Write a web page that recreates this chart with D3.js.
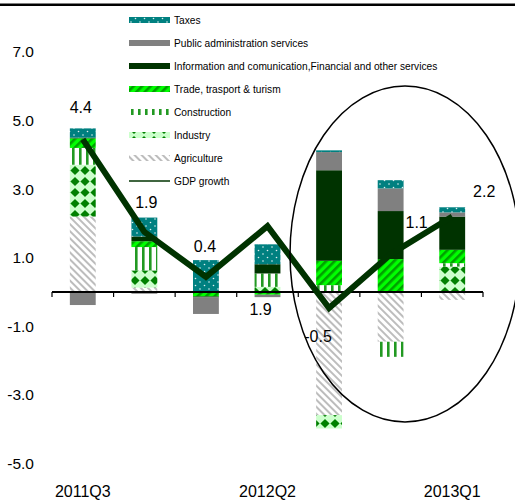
<!DOCTYPE html>
<html>
<head>
<meta charset="utf-8">
<script src="https://cdn.jsdelivr.net/npm/d3@7"></script>
<style>
  body { margin: 0; background: #fff; }
  svg { display: block; font-family: "Liberation Sans", Arial, Helvetica, sans-serif; }
</style>
</head>
<body>
<svg id="chart" width="515" height="500"></svg>
<script>
// Data (contributions to GDP growth, pp)
var categories = ['2011Q3', '2011Q4', '2012Q1', '2012Q2', '2012Q3', '2012Q4', '2013Q1'];
var tickLabels = ['2011Q3', '2012Q2', '2013Q1'];

var agriculture  = [2.2, 0.13, 0, 0, -3.59, -1.45, -0.23];
var industry     = [1.51, 0.5, 0, 0.15, -0.39, 0, 0.74];
var construction = [0.49, 0.68, 0, 0.39, 0.2, -0.44, 0.1];
var trade        = [0.28, 0.17, -0.13, -0.08, 0.71, 0.96, 0.39];
var info         = [0.02, 0.14, -0.03, 0.27, 2.64, 1.4, 0.97];
var publicAdmin  = [-0.38, -0.05, -0.48, -0.07, 0.53, 0.66, 0.12];
var taxes        = [0.27, 0.55, 0.93, 0.58, 0.05, 0.24, 0.15];

var gdp       = [4.45, 1.75, 0.44, 1.92, -0.47, 1.1, 2.2];
var gdpLabels = ['4.4', '1.9', '0.4', '1.9', '-0.5', '1.1', '2.2'];

var yTicks = [-5, -3, -1, 1, 3, 5, 7];

// series, bottom of the stack first
var series = [
  {key: 'agriculture',  name: 'Agriculture', values: agriculture, fill: 'url(#p-agri)'},
  {key: 'industry',     name: 'Industry', values: industry, fill: 'url(#p-ind)'},
  {key: 'construction', name: 'Construction', values: construction, fill: 'url(#p-cons)'},
  {key: 'trade',        name: 'Trade, trasport & turism', values: trade, fill: 'url(#p-trade)'},
  {key: 'info',         name: 'Information and comunication,Financial and other services', values: info, fill: '#003300'},
  {key: 'publicAdmin',  name: 'Public administration services', values: publicAdmin, fill: '#808080'},
  {key: 'taxes',        name: 'Taxes', values: taxes, fill: 'url(#p-tax)'}
];

// rows for d3.stack
var rows = categories.map(function (c, i) {
  var r = {cat: c};
  series.forEach(function (s) { r[s.key] = s.values[i]; });
  return r;
});

var svg = d3.select('#chart');

// ---- patterns
var defs = svg.append('defs');

var pTax = defs.append('pattern').attr('id', 'p-tax')
  .attr('patternUnits', 'userSpaceOnUse').attr('width', 9).attr('height', 7);
pTax.append('rect').attr('width', 9).attr('height', 7).attr('fill', '#008080');
pTax.append('circle').attr('cx', 2).attr('cy', 2).attr('r', 0.8).attr('fill', '#e0f0f0');
pTax.append('circle').attr('cx', 6.5).attr('cy', 5.5).attr('r', 0.8).attr('fill', '#e0f0f0');

var pTrade = defs.append('pattern').attr('id', 'p-trade')
  .attr('patternUnits', 'userSpaceOnUse').attr('width', 6).attr('height', 6)
  .attr('patternTransform', 'rotate(45)');
pTrade.append('rect').attr('width', 6).attr('height', 6).attr('fill', '#00ff00');
pTrade.append('rect').attr('x', 0).attr('width', 2.6).attr('height', 6).attr('fill', '#00a000');

var pCons = defs.append('pattern').attr('id', 'p-cons')
  .attr('patternUnits', 'userSpaceOnUse').attr('width', 7).attr('height', 10);
pCons.append('rect').attr('width', 7).attr('height', 10).attr('fill', '#ffffff');
pCons.append('rect').attr('x', 2).attr('width', 2.6).attr('height', 10).attr('fill', '#229922');

var pInd = defs.append('pattern').attr('id', 'p-ind')
  .attr('patternUnits', 'userSpaceOnUse').attr('width', 10).attr('height', 11);
pInd.append('rect').attr('width', 10).attr('height', 11).attr('fill', '#ccffcc');
pInd.append('path').attr('d', 'M5,1L9.6,5.5L5,10L0.4,5.5Z').attr('fill', '#008000');

var pAgri = defs.append('pattern').attr('id', 'p-agri')
  .attr('patternUnits', 'userSpaceOnUse').attr('width', 5).attr('height', 5)
  .attr('patternTransform', 'rotate(-45)');
pAgri.append('rect').attr('width', 5).attr('height', 5).attr('fill', '#ffffff');
pAgri.append('rect').attr('width', 2).attr('height', 5).attr('fill', '#bdbdbd');

// ---- scales
var x = d3.scaleBand().domain(categories).range([52, 483])
  .paddingInner(0.58).paddingOuter(0.29);
var y = d3.scaleLinear().domain([-5, 7]).range([463.5, 51.9]);

// plain hyphen for negatives, like the original
var fmt = function (v) { return d3.format('.1f')(v).replace('\u2212', '-'); };

// top rule
svg.append('line').attr('x1', 0).attr('x2', 515).attr('y1', 4.7).attr('y2', 4.7)
  .attr('stroke', '#000').attr('stroke-width', 2.5);

// ---- bars
var stack = d3.stack().keys(series.map(function (s) { return s.key; }))
  .offset(d3.stackOffsetDiverging);
var stacked = stack(rows);

svg.append('g').selectAll('g')
  .data(stacked)
  .join('g')
    .attr('fill', function (d, i) { return series[i].fill; })
  .selectAll('rect')
  .data(function (d) { return d; })
  .join('rect')
    .attr('x', function (d) { return x(d.data.cat); })
    .attr('width', x.bandwidth())
    .attr('y', function (d) { return y(Math.max(d[0], d[1])); })
    .attr('height', function (d) { return Math.abs(y(d[0]) - y(d[1])); });

// ---- x axis (line + ticks at band edges)
var step = x.step();
var xAxis = svg.append('g');
xAxis.append('line').attr('x1', 52).attr('x2', 483).attr('y1', y(0)).attr('y2', y(0))
  .attr('stroke', '#000').attr('stroke-width', 2);
d3.range(categories.length + 1).forEach(function (i) {
  var tx = 52 + i * step;
  xAxis.append('line').attr('x1', tx).attr('x2', tx).attr('y1', y(0)).attr('y2', y(0) + 5)
    .attr('stroke', '#000').attr('stroke-width', 1.2);
});
xAxis.selectAll('text.xl')
  .data(tickLabels)
  .join('text')
    .attr('class', 'xl')
    .attr('x', function (d) { return x(d) + x.bandwidth() / 2; })
    .attr('y', 497)
    .attr('text-anchor', 'middle')
    .attr('font-size', 16)
    .text(function (d) { return d; });

// ---- y labels (no axis line)
svg.append('g').selectAll('text')
  .data(yTicks)
  .join('text')
    .attr('x', 34)
    .attr('y', function (d) { return y(d) + 5.5; })
    .attr('text-anchor', 'end')
    .attr('font-size', 15.5)
    .text(fmt);

// ---- GDP growth line
var line = d3.line()
  .x(function (d, i) { return x(categories[i]) + x.bandwidth() / 2; })
  .y(function (d) { return y(d); });

svg.append('path')
  .datum(gdp)
  .attr('d', line)
  .attr('fill', 'none')
  .attr('stroke', '#003300')
  .attr('stroke-width', 6)
  .attr('stroke-linejoin', 'miter');

// data labels, nudged the way the original has them
var labelOffset = [[-2, -26], [2, -24], [-1, -25], [-7, 89], [-11, 34], [26, -26], [32, -20]];
svg.append('g').selectAll('text')
  .data(gdp)
  .join('text')
    .attr('x', function (d, i) { return x(categories[i]) + x.bandwidth() / 2 + labelOffset[i][0]; })
    .attr('y', function (d, i) { return y(d) + labelOffset[i][1]; })
    .attr('text-anchor', 'middle')
    .attr('font-size', 16)
    .text(function (d, i) { return gdpLabels[i]; });

// ---- ellipse highlight
svg.append('ellipse')
  .attr('cx', 405).attr('cy', 254).attr('rx', 115).attr('ry', 168)
  .attr('fill', 'none').attr('stroke', '#000').attr('stroke-width', 1.5);

// ---- legend
var legendItems = series.slice().reverse().concat([{name: 'GDP growth', line: true}]);
var legend = svg.append('g').attr('transform', 'translate(129,20)');
var li = legend.selectAll('g')
  .data(legendItems)
  .join('g')
    .attr('transform', function (d, i) { return 'translate(0,' + (i * 23) + ')'; });

li.filter(function (d) { return !d.line; })
  .append('rect')
    .attr('x', 0).attr('y', -3).attr('width', 41).attr('height', 6)
    .attr('fill', function (d) { return d.fill; });
li.filter(function (d) { return d.line; })
  .append('line')
    .attr('x1', 0).attr('x2', 41).attr('y1', 0).attr('y2', 0)
    .attr('stroke', '#003300').attr('stroke-width', 1.5);
li.append('text')
  .attr('x', 45).attr('y', 3.5)
  .attr('font-size', 10.2)
  .text(function (d) { return d.name; });
</script>
</body>
</html>
